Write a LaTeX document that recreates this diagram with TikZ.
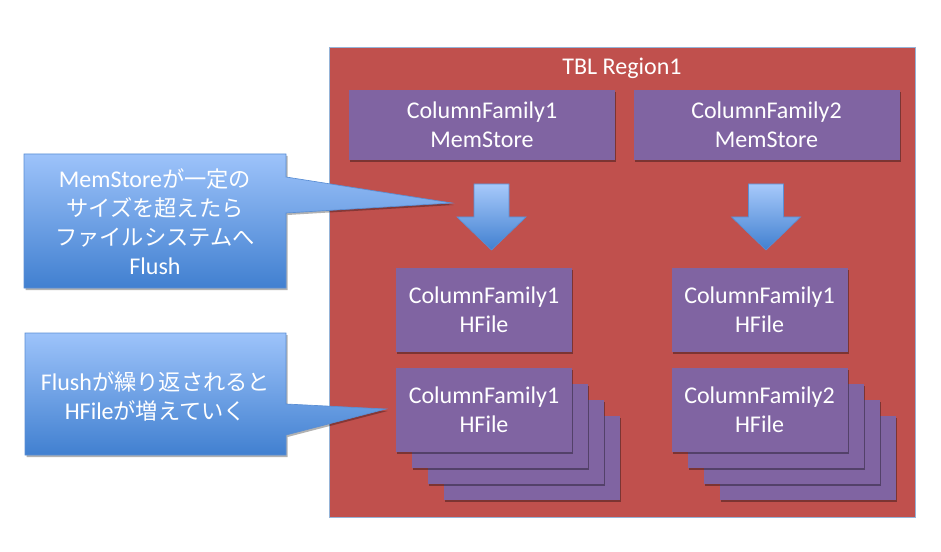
\documentclass[tikz,border=0pt]{standalone}
\usepackage{fontspec}
\setmainfont{Carlito}
\newfontfamily\jpfont{Noto Sans CJK JP}
\usetikzlibrary{shadows}
\newcommand\jtx[1]{{\jpfont\fontsize{16.7}{21.75}\selectfont #1}}
\definecolor{regred}{HTML}{C0504D}
\definecolor{regline}{HTML}{95B3D7}
\definecolor{cfpurple}{HTML}{8064A2}
\definecolor{caltop}{HTML}{9DC3FA}
\definecolor{calbot}{HTML}{4180D0}
\definecolor{calline}{HTML}{5A8ED4}
\tikzset{
  regionbox/.style={draw=regline, line width=0.6pt, fill=regred, minimum width=439.5pt, minimum height=352.5pt, inner sep=0pt},
  cfbox/.style={fill=cfpurple, inner sep=0pt, align=center, text=white,
     drop shadow={shadow xshift=1pt, shadow yshift=-1.2pt, opacity=0.35, fill=black}},
  msbox/.style={cfbox, minimum width=199.5pt, minimum height=52.5pt},
  hfbox/.style={cfbox, minimum width=132pt, minimum height=63pt},
  calloutshape/.style={top color=caltop, bottom color=calbot, draw=calline, line width=0.5pt,
     drop shadow={shadow xshift=1.2pt, shadow yshift=-1.5pt, opacity=0.3, fill=black}},
  blockarrow/.style={top color=caltop!90!white, bottom color=calbot, draw=calline, line width=0.5pt},
  wtext/.style={text=white, align=center, inner sep=0pt}
}
\begin{document}
\begin{tikzpicture}[x=0.75pt, y=-0.75pt, font=\fontsize{18}{21.75}\selectfont]
\useasboundingbox (0,0) rectangle (941,552);
% region
\node[regionbox] (region) at (622,282) {};
\node[wtext] (title) at (622,68) {TBL Region1};
% memstores
\node[msbox] (ms1) at (482,125) {ColumnFamily1\\MemStore};
\node[msbox] (ms2) at (766.5,125) {ColumnFamily2\\MemStore};
% block arrows
\coordinate (a1) at (491.5,184);
\coordinate (a2) at (766,184);
\foreach \c/\n in {a1/arr1, a2/arr2}{
  \shade[blockarrow] ([xshift=-13.125pt]\c) -- ([xshift=13.125pt]\c) -- ([xshift=13.125pt,yshift=-24.75pt]\c)
     -- ([xshift=25.875pt,yshift=-24.75pt]\c) -- ([yshift=-49.5pt]\c) -- ([xshift=-25.875pt,yshift=-24.75pt]\c)
     -- ([xshift=-13.125pt,yshift=-24.75pt]\c) -- cycle;
}
% single HFiles
\node[hfbox] (hf1) at (484,310) {ColumnFamily1\\HFile};
\node[hfbox] (hf2) at (759.5,310) {ColumnFamily1\\HFile};
% stacks
\node[hfbox] (s1d) at (532,458) {};
\node[hfbox] (s1c) at (516,442) {};
\node[hfbox] (s1b) at (500,426) {};
\node[hfbox] (s1a) at (484,410) {ColumnFamily1\\HFile};
\node[hfbox] (s2d) at (807.5,458) {};
\node[hfbox] (s2c) at (791.5,442) {};
\node[hfbox] (s2b) at (775.5,426) {};
\node[hfbox] (s2a) at (759.5,410) {ColumnFamily2\\HFile};
% callout 1
\coordinate (tip1) at (452,203);
\shade[calloutshape] (24,154) -- (286,154) -- (286,177) -- (tip1) -- (286,213) -- (286,288) -- (24,288) -- cycle;
\node[wtext] (c1) at (155,222) {MemStore\jtx{が一定の}\\\jtx{サイズを超えたら}\\\jtx{ファイルシステムへ}\\Flush};
% callout 2
\coordinate (tip2) at (386,409);
\shade[calloutshape] (25,333) -- (286,333) -- (286,404) -- (tip2) -- (286,435) -- (286,455) -- (25,455) -- cycle;
\node[wtext] (c2) at (155.5,396) {Flush\jtx{が繰り返されると}\\HFile\jtx{が増えていく}};
\end{tikzpicture}
\end{document}
